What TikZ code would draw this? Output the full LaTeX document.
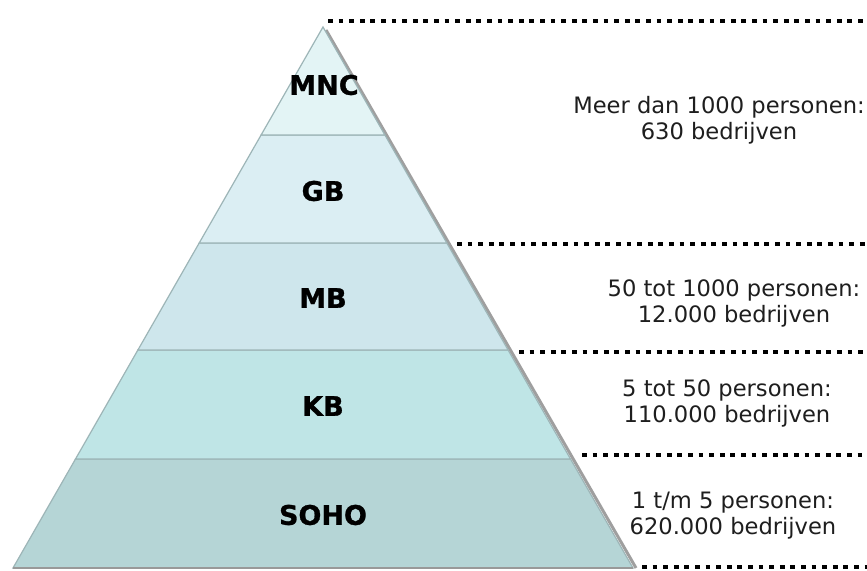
\documentclass[tikz,border=0pt]{standalone}
\usepackage{fontspec}
\setmainfont{DejaVu Sans}
\newfontfamily\lblfont[FakeBold=1.0]{DejaVu Sans Bold}
\begin{document}
\begin{tikzpicture}[x=1pt,y=-1pt,
  band/.style={draw=bandline,line width=1.2pt},
  lvl/.style={font=\fontsize{27}{32}\selectfont\lblfont,text=black,inner sep=0pt},
  info/.style={font=\fontsize{22.6}{26}\selectfont,text=infotext,align=center,inner sep=0pt},
  dots/.style={line width=4.6pt,dash pattern=on 4.8pt off 5.8pt,black}]
\definecolor{bandline}{HTML}{9DB5B7}
\definecolor{infotext}{HTML}{1E1E1E}
\definecolor{c1}{HTML}{E3F4F5}
\definecolor{c2}{HTML}{DBEEF3}
\definecolor{c3}{HTML}{CEE6EC}
\definecolor{c4}{HTML}{BFE5E6}
\definecolor{c5}{HTML}{B5D5D6}
\useasboundingbox[fill=white] (0,0) rectangle (867,570);
% shadow on the right edge
\draw[gray!75,line width=3pt] (326,30) -- (636,568);
% bands
\filldraw[band,fill=c5] (75.5,459) -- (570.5,459) -- (633,568) -- (13,568) -- cycle;
\filldraw[band,fill=c4] (137.9,350) -- (508.1,350) -- (570.5,459) -- (75.5,459) -- cycle;
\filldraw[band,fill=c3] (199.2,243) -- (446.8,243) -- (508.1,350) -- (137.9,350) -- cycle;
\filldraw[band,fill=c2] (261.1,135) -- (384.9,135) -- (446.8,243) -- (199.2,243) -- cycle;
\filldraw[band,fill=c1] (323,27) -- (384.9,135) -- (261.1,135) -- cycle;
\draw[gray!80,line width=1.5pt] (13,568) -- (633,568);
% level labels
\node[lvl] (mnc) at (324,85) {MNC};
\node[lvl] (gb) at (323,191) {GB};
\node[lvl] (mb) at (323,298) {MB};
\node[lvl] (kb) at (323,406) {KB};
\node[lvl] (soho) at (323,515) {SOHO};
% dotted separators
\coordinate (d1a) at (328,21);  \coordinate (d1b) at (867,21);
\coordinate (d2a) at (457,244); \coordinate (d2b) at (867,244);
\coordinate (d3a) at (519,352); \coordinate (d3b) at (867,352);
\coordinate (d4a) at (582,455); \coordinate (d4b) at (867,455);
\coordinate (d5a) at (642,567); \coordinate (d5b) at (867,567);
\draw[dots] (d1a) -- (d1b);
\draw[dots] (d2a) -- (d2b);
\draw[dots] (d3a) -- (d3b);
\draw[dots] (d4a) -- (d4b);
\draw[dots] (d5a) -- (d5b);
% info texts
\node[info] (t1) at (719,120) {Meer dan 1000 personen:\\630 bedrijven};
\node[info] (t2) at (734,303) {50 tot 1000 personen:\\12.000 bedrijven};
\node[info] (t3) at (727,403) {5 tot 50 personen:\\110.000 bedrijven};
\node[info] (t4) at (733,516) {1 t/m 5 personen:\\620.000 bedrijven};
\end{tikzpicture}
\end{document}
